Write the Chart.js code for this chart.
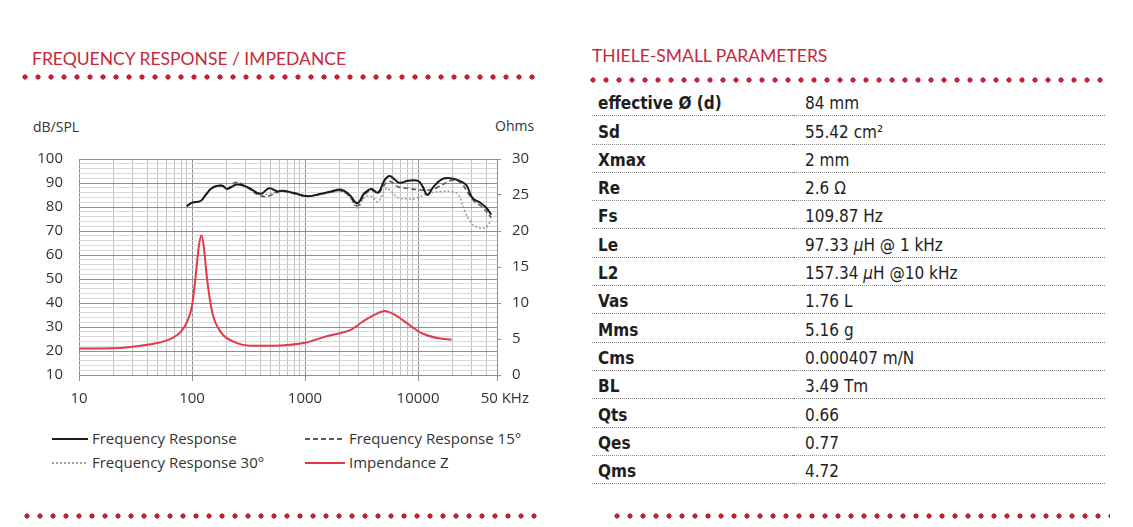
<!DOCTYPE html>
<html>
<head>
<meta charset="utf-8">
<script src="https://cdn.jsdelivr.net/npm/chart.js@4.4.1/dist/chart.umd.min.js"></script>
<style>
    body { margin: 0; width: 1133px; height: 527px; background: #fff; position: relative; overflow: hidden; font-family: 'Open Sans', sans-serif; color: #333; }
    .title { position: absolute; color: #c8283a; font-family: Lato, sans-serif; font-size: 17.5px; line-height: 20px; white-space: nowrap; }
    .dots { position: absolute; height: 6px; background: radial-gradient(circle at 3px 3px, #c52134 2.3px, rgba(197,33,52,0) 2.9px) 0 0 / 13px 6px repeat-x; }
    .axisName { position: absolute; font-size: 14px; line-height: 16px; color: #333; }
    #chartBox { position: absolute; left: 0; top: 134px; }
    .leg { position: absolute; font-size: 15px; line-height: 18px; color: #333; white-space: nowrap; }
    .leg span.s { display: inline-block; vertical-align: middle; height: 2px; margin-right: 4px; position: relative; top: -1px; }
    #params { position: absolute; left: 592px; top: 88px; width: 513px; border-collapse: collapse; }
    #params td { height: 25.3px; padding: 0 0 2px 0; vertical-align: bottom; border-bottom: 1px dotted #8a8a8a; font-family: 'DejaVu Sans Condensed', 'DejaVu Sans', sans-serif; font-stretch: condensed; font-size: 17px; line-height: 20px; color: #1e1e1e; white-space: nowrap; }
    #params td.k { width: 195px; padding-left: 6px; font-weight: bold; }
    #params td.v { padding-left: 12px; }
</style>
</head>
<body>

<div class="title" style="left:32px; top:49px;">FREQUENCY RESPONSE / IMPEDANCE</div>
<div class="dots" style="left:22px; top:74px; width:520px;"></div>
<div class="title" style="left:592px; top:46px;">THIELE-SMALL PARAMETERS</div>
<div class="dots" style="left:590px; top:77px; width:520px;"></div>
<div class="dots" style="left:24px; top:513px; width:520px;"></div>
<div class="dots" style="left:614px; top:513px; width:496px;"></div>

<div class="axisName" style="left:33px; top:119px;">dB/SPL</div>
<div class="axisName" style="left:495px; top:118px;">Ohms</div>

<div id="chartBox"><canvas id="fr" width="560" height="276"></canvas></div>
<div id="legend"></div>

<table id="params"></table>

<script>
// frequency response, 0 deg (Hz / dB SPL)
const frFreq = [90, 100, 119, 132, 151, 185, 205, 250, 310, 405, 480, 570, 640, 800, 1050, 1380, 1700, 2100, 2480, 2900, 3350, 3870, 4430, 5060, 5600, 6200, 6870, 8140, 10000, 11000, 12100, 13700, 16200, 19100, 23400, 26800, 30300, 35500, 40000, 44500];
const frSpl = [80.3, 81.8, 82.5, 85, 88, 88.9, 87.5, 89.4, 88.3, 85.5, 87.8, 86.5, 86.8, 85.8, 84.5, 85.5, 86.5, 87.2, 85, 81.6, 85.7, 87.5, 86, 91.2, 92.9, 91.5, 90.1, 90.9, 90.9, 88.5, 85, 88.4, 91.5, 92, 90.9, 89.1, 83.8, 81.8, 79.8, 76.8];

// 15 deg
const fr15Freq = [90, 100, 119, 132, 151, 185, 205, 245, 310, 405, 480, 570, 640, 800, 1050, 1380, 1700, 2100, 2480, 2900, 3350, 3870, 4430, 5230, 5800, 6640, 8140, 10000, 12300, 15200, 18500, 21500, 24500, 28000, 32000, 36700, 44500];
const fr15Spl = [80.3, 81.8, 82.5, 85, 88, 88.9, 87.7, 90.3, 88, 84.6, 84.6, 86.2, 86.6, 85.6, 84.5, 85.3, 86.3, 86.8, 84.5, 80.5, 85, 87, 85.7, 90.1, 90.5, 88.4, 87.8, 87.2, 87, 88.4, 90.6, 91.2, 89.6, 85.5, 82, 80.2, 75.5];

// 30 deg
const fr30Freq = [90, 100, 119, 132, 151, 185, 205, 245, 310, 405, 480, 570, 640, 800, 1050, 1380, 1700, 2100, 2480, 2900, 3350, 3870, 4430, 5230, 5800, 6640, 8000, 9300, 12300, 16000, 19800, 22800, 26000, 29000, 32000, 39000, 44500];
const fr30Spl = [80.3, 81.8, 82.5, 85, 88, 88.9, 87.7, 90, 88, 85, 85.5, 86.2, 86.6, 85.6, 84.5, 85.3, 86, 86.5, 84.3, 79.7, 84, 84.5, 82.2, 87.7, 86.5, 83.9, 83.4, 83.4, 85.7, 86.4, 86.4, 85, 78.1, 74, 72, 71.2, 74.5];

// impedance (Hz / Ohms)
const impFreq = [10, 20, 40, 60, 79, 90, 100, 107, 115, 121, 127, 136, 151, 180, 235, 354, 611, 1020, 1490, 2030, 2560, 3360, 4430, 5060, 6200, 8140, 10800, 15200, 19800];
const impOhm = [3.67, 3.7, 4.2, 4.8, 5.96, 7.3, 9.6, 13.3, 17.9, 19.4, 17.9, 13.3, 8.7, 5.96, 4.6, 4.05, 4.1, 4.5, 5.3, 5.8, 6.3, 7.6, 8.6, 8.9, 8.4, 7.1, 5.8, 5.1, 4.9];

const seriesNames = ['Frequency Response', 'Frequency Response 15°', 'Frequency Response 30°', 'Impendance Z'];
const xLabelValues = [10, 100, 1000, 10000, 50000];
const xLabelTexts = ['10', '100', '1000', '10000', '    50 KHz'];
const decades = [10, 100, 1000, 10000];

const paramNames = ['effective Ø (d)', 'Sd', 'Xmax', 'Re', 'Fs', 'Le', 'L2', 'Vas', 'Mms', 'Cms', 'BL', 'Qts', 'Qes', 'Qms'];
const paramValues = ['84 mm', '55.42 cm²', '2 mm', '2.6 Ω', '109.87 Hz', '97.33 µH @ 1 kHz', '157.34 µH @10 kHz', '1.76 L', '5.16 g', '0.000407 m/N', '3.49 Tm', '0.66', '0.77', '4.72'];

function pairs(xs, ys) {
    return xs.map(function (x, i) { return { x: x, y: ys[i] }; });
}

// grid lines 10,20..90,100,200.. up to 50k
const gridFreqs = [];
decades.forEach(function (d) {
    for (let m = 1; m <= 9; m++) gridFreqs.push(m * d);
});
gridFreqs.splice(gridFreqs.indexOf(60000));

const tickFont = { family: 'Open Sans', size: 15 };

new Chart(document.getElementById('fr'), {
    type: 'line',
    data: {
        datasets: [
            { label: seriesNames[0], data: pairs(frFreq, frSpl), borderColor: '#1b1b1b', borderWidth: 2, tension: 0.4, yAxisID: 'y' },
            { label: seriesNames[1], data: pairs(fr15Freq, fr15Spl), borderColor: '#5a5a5a', borderWidth: 1.6, borderDash: [5, 3], tension: 0.4, yAxisID: 'y' },
            { label: seriesNames[2], data: pairs(fr30Freq, fr30Spl), borderColor: '#9c9c9c', borderWidth: 1.6, borderDash: [2, 2], tension: 0.4, yAxisID: 'y' },
            { label: seriesNames[3], data: pairs(impFreq, impOhm), borderColor: '#e2394a', borderWidth: 2, cubicInterpolationMode: 'monotone', yAxisID: 'y1' }
        ]
    },
    options: {
        responsive: false,
        animation: false,
        layout: { padding: { top: 11, left: 0, right: 0, bottom: 0 } },
        elements: { point: { radius: 0 } },
        plugins: { legend: { display: false }, tooltip: { enabled: false } },
        scales: {
            x: {
                type: 'logarithmic', min: 10, max: 50000,
                afterBuildTicks: function (s) { s.ticks = gridFreqs.map(function (v) { return { value: v }; }); },
                afterFit: function (s) { s.height = 35; },
                ticks: {
                    autoSkip: false, maxRotation: 0, padding: 9, color: '#333', font: tickFont,
                    callback: function (v) {
                        const i = xLabelValues.indexOf(v);
                        return i < 0 ? '' : xLabelTexts[i];
                    }
                },
                grid: {
                    tickLength: 6,
                    color: function (c) { return decades.includes(c.tick.value) ? '#8f8f8f' : '#c2c2c2'; },
                    tickColor: function (c) { return xLabelValues.includes(c.tick.value) ? '#8f8f8f' : 'rgba(0,0,0,0)'; }
                },
                border: { display: false }
            },
            y: {
                position: 'left', min: 10, max: 100,
                afterFit: function (s) { s.width = 79; },
                ticks: {
                    stepSize: 2, autoSkip: false, padding: 16, color: '#333', font: tickFont,
                    callback: function (v) { return v % 10 === 0 ? v : ''; }
                },
                grid: {
                    drawTicks: false,
                    color: function (c) { return c.tick.value % 10 === 0 ? '#8f8f8f' : '#d9d9d9'; }
                },
                border: { display: false }
            },
            y1: {
                position: 'right', min: 0, max: 30,
                afterFit: function (s) { s.width = 63; },
                ticks: { stepSize: 5, padding: 11, color: '#333', font: tickFont },
                grid: { drawOnChartArea: false, tickLength: 4, color: '#8f8f8f' },
                border: { display: true, color: '#8f8f8f' }
            }
        }
    }
});

/* legend */
const legendStyles = [
    { left: 52, top: 429, w: 36, bg: '#1b1b1b' },
    { left: 305, top: 429, w: 40, bg: 'repeating-linear-gradient(90deg,#5a5a5a 0 5px,transparent 5px 8px)' },
    { left: 52, top: 453, w: 36, bg: 'repeating-linear-gradient(90deg,#a0a0a0 0 2px,transparent 2px 4px)' },
    { left: 305, top: 453, w: 40, bg: '#e2394a' }
];
const legend = document.getElementById('legend');
seriesNames.forEach(function (name, i) {
    const st = legendStyles[i];
    const item = document.createElement('div');
    item.className = 'leg';
    item.style.left = st.left + 'px';
    item.style.top = st.top + 'px';
    const sw = document.createElement('span');
    sw.className = 's';
    sw.style.width = st.w + 'px';
    sw.style.background = st.bg;
    item.appendChild(sw);
    item.appendChild(document.createTextNode(name));
    legend.appendChild(item);
});

/* parameter table */
const table = document.getElementById('params');
paramNames.forEach(function (name, i) {
    const tr = document.createElement('tr');
    const k = document.createElement('td');
    k.className = 'k';
    k.textContent = name;
    const v = document.createElement('td');
    v.className = 'v';
    paramValues[i].split('µ').forEach(function (part, j) {
        if (j > 0) {
            const mu = document.createElement('i');
            mu.textContent = 'µ';
            v.appendChild(mu);
        }
        v.appendChild(document.createTextNode(part));
    });
    tr.appendChild(k);
    tr.appendChild(v);
    table.appendChild(tr);
});
</script>
</body>
</html>
